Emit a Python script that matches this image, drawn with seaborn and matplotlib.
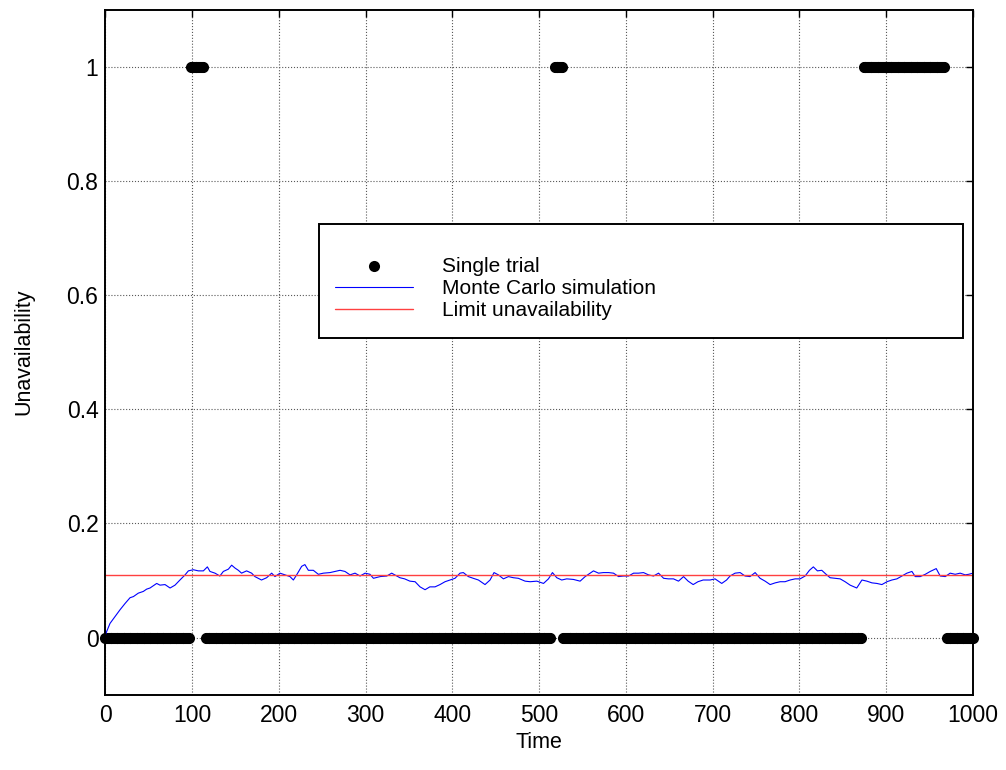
import numpy as np
import pandas as pd
import matplotlib
matplotlib.use("Agg")
import matplotlib.pyplot as plt
from matplotlib.patches import Rectangle
import seaborn as sns

# ---- data ----
# single trial: (start time, end time, state)
trial_start = [0, 99, 116, 518, 528, 874, 970]
trial_end = [96, 112, 512, 526, 871, 966, 1000]
trial_state = [0, 1, 0, 1, 0, 1, 0]

# Monte Carlo estimate of unavailability
mc_time = [0, 5.4, 11.2, 17, 22.8, 28.5, 32.4, 38, 43.8, 47.6, 51.5, 55.4, 59.2, 63, 68.8, 74.6,
           80.3, 86, 91.9, 95.7, 101.4, 107.2, 113, 117.6, 120.6, 126.4, 132, 136, 141.8, 145.6,
           149.4, 153.3, 157, 162.8, 168.6, 172.4, 176.3, 180, 185.9, 191.7, 195.5, 201.3, 207,
           212.8, 216.7, 220.5, 226.3, 230, 234, 239.7, 245.5, 251.3, 259, 264.7, 270.5, 276.2,
           282, 287.8, 293.6, 299.4, 305, 309, 316.7, 324.4, 330, 336, 339.5, 345, 351, 357,
           362.7, 368.5, 374, 380, 385.7, 391.5, 397.3, 403, 408.8, 412.6, 418.4, 424, 430,
           437.6, 443.4, 448, 453, 458.8, 464.6, 470.3, 476, 483.8, 489.6, 497.3, 505, 510.7,
           515.3, 520.3, 526, 531.8, 539.5, 547.2, 553, 558.7, 562.6, 568.4, 574, 580, 585.7,
           591.5, 597.2, 603, 608.8, 614.5, 620.3, 626, 631.8, 637.6, 643.4, 649, 654.8, 660.6,
           666.4, 671.7, 677.5, 683, 689, 697, 702.7, 710.4, 716, 720, 725.8, 731.6, 737.3, 743,
           748.9, 754.6, 760.4, 766.2, 772, 777.7, 783.4, 789.2, 795, 800.7, 806.5, 811.5, 816,
           820.7, 825.7, 830.7, 835.3, 841, 846.9, 852.6, 858.4, 866, 872, 877.7, 883.5, 889.2,
           895, 900.8, 906.5, 912.3, 918, 923.8, 929.6, 933.4, 939.2, 945, 950.7, 957.6, 962.2,
           968, 973.7, 979.5, 985.2, 991, 995, 1000]
mc_value = [0.005, 0.025, 0.037, 0.049, 0.060, 0.070, 0.072, 0.078, 0.081, 0.085, 0.087, 0.091,
            0.095, 0.092, 0.093, 0.087, 0.092, 0.101, 0.110, 0.117, 0.119, 0.117, 0.117, 0.124,
            0.116, 0.113, 0.108, 0.116, 0.120, 0.127, 0.122, 0.118, 0.113, 0.117, 0.113, 0.107,
            0.104, 0.101, 0.105, 0.113, 0.107, 0.113, 0.110, 0.107, 0.101, 0.110, 0.125, 0.128,
            0.118, 0.118, 0.111, 0.113, 0.114, 0.116, 0.118, 0.116, 0.110, 0.113, 0.108, 0.113,
            0.111, 0.104, 0.107, 0.108, 0.113, 0.108, 0.105, 0.103, 0.099, 0.098, 0.089, 0.084,
            0.089, 0.089, 0.093, 0.098, 0.101, 0.104, 0.113, 0.114, 0.107, 0.104, 0.101, 0.093,
            0.101, 0.114, 0.110, 0.103, 0.107, 0.105, 0.104, 0.099, 0.098, 0.099, 0.095, 0.103,
            0.114, 0.105, 0.101, 0.103, 0.102, 0.099, 0.107, 0.113, 0.117, 0.113, 0.114, 0.114,
            0.113, 0.107, 0.108, 0.108, 0.113, 0.113, 0.114, 0.110, 0.108, 0.113, 0.104, 0.103,
            0.103, 0.099, 0.107, 0.099, 0.093, 0.098, 0.101, 0.101, 0.103, 0.095, 0.101, 0.108,
            0.113, 0.114, 0.108, 0.107, 0.114, 0.104, 0.099, 0.093, 0.096, 0.098, 0.098, 0.101,
            0.103, 0.103, 0.108, 0.118, 0.124, 0.117, 0.118, 0.111, 0.105, 0.104, 0.103, 0.098,
            0.092, 0.087, 0.101, 0.099, 0.096, 0.095, 0.093, 0.098, 0.101, 0.103, 0.108, 0.113,
            0.116, 0.107, 0.107, 0.111, 0.116, 0.121, 0.108, 0.107, 0.113, 0.111, 0.113, 0.110,
            0.111, 0.113]

limit_value = 0.11
x_ticks = [0, 100, 200, 300, 400, 500, 600, 700, 800, 900, 1000]
y_ticks = [0, 0.2, 0.4, 0.6, 0.8, 1]
y_tick_labels = ["0", "0.2", "0.4", "0.6", "0.8", "1"]
legend_labels = ["Single trial", "Monte Carlo simulation", "Limit unavailability"]

# ---- build tables ----
tt, ts = [], []
for a, b, s in zip(trial_start, trial_end, trial_state):
    pts = np.arange(a, b + 1)
    tt.extend(pts)
    ts.extend([s] * len(pts))
trial_df = pd.DataFrame({"Time": tt, "State": ts})
mc_df = pd.DataFrame({"Time": mc_time, "Unavailability": mc_value})
lim_df = pd.DataFrame({"Time": [0, 1000], "Unavailability": [limit_value, limit_value]})

sns.set_style("white")
plt.rcParams["font.family"] = ["Liberation Sans", "DejaVu Sans"]
plt.rcParams["text.color"] = "black"
plt.rcParams["axes.labelcolor"] = "black"

fig = plt.figure(figsize=(10.06, 7.70), dpi=100)
ax = fig.add_axes([0.1047, 0.0977, 0.8625, 0.8898])

sns.scatterplot(data=trial_df, x="Time", y="State", ax=ax, color="black", s=64,
                linewidth=0, marker="o", label=legend_labels[0], zorder=3, clip_on=False)
sns.lineplot(data=mc_df, x="Time", y="Unavailability", ax=ax, color="blue", lw=0.8,
             label=legend_labels[1], zorder=4)
sns.lineplot(data=lim_df, x="Time", y="Unavailability", ax=ax, color="#ff4040", lw=1.0,
             label=legend_labels[2], zorder=5)

ax.set_xlim(0, 1000)
ax.set_ylim(-0.1, 1.1)
ax.set_xticks(x_ticks)
ax.set_yticks(y_ticks)
ax.set_yticklabels(y_tick_labels)
ax.grid(True, linestyle=":", color="0.35", linewidth=0.8)
ax.set_axisbelow(True)
ax.tick_params(direction="in", length=5, width=1, top=True, right=True,
               labelsize=16.5, colors="black")
ax.tick_params(axis="x", pad=7)
ax.tick_params(axis="y", pad=5)
for sp in ax.spines.values():
    sp.set_visible(True)
    sp.set_color("black")
    sp.set_linewidth(1.4)
    sp.set_zorder(6)

ax.set_xlabel("Time", fontsize=15.5, labelpad=3)
ax.set_ylabel("Unavailability", fontsize=15.5, labelpad=23)

# legend box drawn as a separate rectangle, entries placed inside
box = Rectangle((0.2463, 0.5207), 0.7422, 0.1664, transform=ax.transAxes,
                facecolor="white", edgecolor="black", linewidth=1.4, zorder=7)
ax.add_patch(box)
leg = ax.legend(loc="upper left", bbox_to_anchor=(0.2647, 0.639),
                fontsize=15, frameon=False, borderpad=0, labelspacing=0.15,
                handlelength=3.75, handletextpad=1.4, borderaxespad=0)
leg.set_zorder(8)

fig.savefig("out.png", dpi=100)
